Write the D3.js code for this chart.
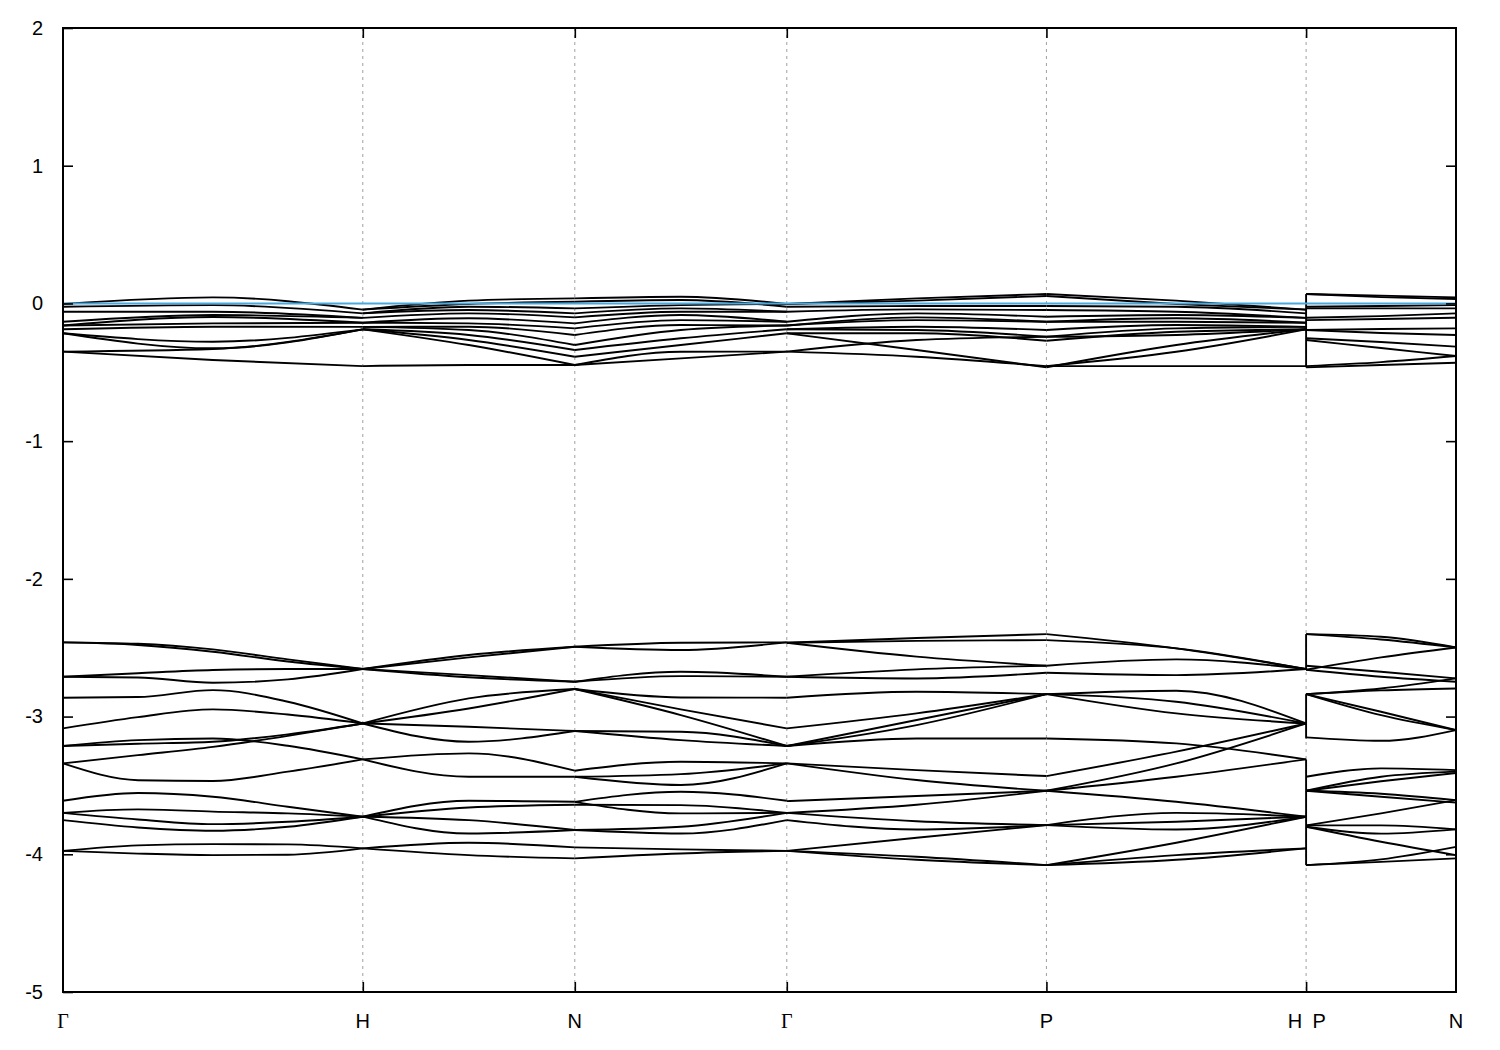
<!DOCTYPE html>
<html><head><meta charset="utf-8">
<script src="https://cdn.jsdelivr.net/npm/d3@7"></script>
<style>body{margin:0;background:#fff}svg text{font-family:"Liberation Sans",Arial,sans-serif}</style>
</head><body><svg id="c" width="1500" height="1050"></svg>
<script>
// ---- data ----
const kLabels = ["Γ","H","N","Γ","P","H","P","N"];
const kDist   = [0, 1, 1.7071, 2.4142, 3.2802, 4.1463, 4.1463, 4.6463];
const yTicks  = [2, 1, 0, -1, -2, -3, -4, -5];
const fermiLevel = 0;

// band curves per path segment; each curve = energies (eV) sampled evenly along the segment
const upperGH = [
  [-0.004, 0.044, -0.045], [-0.024, -0.012, -0.072], [-0.060, -0.060, -0.105],
  [-0.133, -0.084, -0.105], [-0.160, -0.099, -0.140], [-0.160, -0.145, -0.140],
  [-0.188, -0.169, -0.170], [-0.217, -0.278, -0.188], [-0.217, -0.326, -0.188],
  [-0.350, -0.331, -0.188], [-0.350, -0.411, -0.455]
];
const upperHN = [
  [-0.045, 0.020, 0.037], [-0.045, -0.004, 0.012], [-0.072, -0.024, -0.036],
  [-0.072, -0.048, -0.072], [-0.105, -0.072, -0.101], [-0.140, -0.108, -0.145],
  [-0.140, -0.145, -0.181], [-0.170, -0.169, -0.229], [-0.170, -0.193, -0.302],
  [-0.188, -0.229, -0.338], [-0.188, -0.266, -0.387], [-0.188, -0.302, -0.447],
  [-0.455, -0.447, -0.447]
];
const upperNG = [
  [0.037, 0.049, -0.004], [0.012, 0.025, -0.024], [-0.036, -0.012, -0.004],
  [-0.072, -0.036, -0.060], [-0.101, -0.060, -0.060], [-0.145, -0.084, -0.133],
  [-0.181, -0.121, -0.133], [-0.229, -0.157, -0.160], [-0.302, -0.193, -0.160],
  [-0.338, -0.253, -0.188], [-0.387, -0.302, -0.217], [-0.447, -0.351, -0.350],
  [-0.447, -0.399, -0.350]
];
const upperGP = [
  [-0.004, 0.037, 0.068], [-0.004, 0.020, 0.054], [-0.024, -0.019, -0.019],
  [-0.060, -0.043, -0.048], [-0.133, -0.072, -0.097], [-0.160, -0.101, -0.133],
  [-0.160, -0.121, -0.133], [-0.188, -0.169, -0.193], [-0.188, -0.193, -0.242],
  [-0.217, -0.217, -0.271], [-0.350, -0.266, -0.242], [-0.350, -0.387, -0.455],
  [-0.217, -0.338, -0.464]
];
const upperPH = [
  [0.068, 0.020, -0.045], [0.054, -0.004, -0.045], [-0.019, -0.024, -0.072],
  [-0.048, -0.060, -0.105], [-0.097, -0.084, -0.105], [-0.133, -0.108, -0.140],
  [-0.133, -0.133, -0.140], [-0.193, -0.157, -0.170], [-0.242, -0.181, -0.170],
  [-0.271, -0.206, -0.188], [-0.242, -0.229, -0.188], [-0.455, -0.351, -0.188],
  [-0.464, -0.302, -0.188], [-0.455, -0.455, -0.455]
];
const upperPN = [
  [0.068, 0.057, 0.044], [0.068, 0.046, 0.032], [-0.024, -0.019, -0.012],
  [-0.036, -0.036, -0.036], [-0.104, -0.092, -0.072], [-0.121, -0.113, -0.104],
  [-0.193, -0.186, -0.181], [-0.193, -0.215, -0.229], [-0.253, -0.280, -0.314],
  [-0.266, -0.324, -0.382], [-0.455, -0.426, -0.382], [-0.464, -0.447, -0.431]
];

const lowerGH = [
  [-2.461, -2.471, -2.512, -2.585, -2.655], [-2.461, -2.480, -2.529, -2.600, -2.655],
  [-2.711, -2.685, -2.662, -2.655, -2.655], [-2.711, -2.716, -2.754, -2.730, -2.655],
  [-2.863, -2.858, -2.808, -2.892, -3.050], [-3.086, -3.004, -2.948, -2.985, -3.050],
  [-3.214, -3.171, -3.159, -3.212, -3.311], [-3.214, -3.197, -3.183, -3.129, -3.050],
  [-3.340, -3.280, -3.220, -3.140, -3.050], [-3.340, -3.462, -3.468, -3.400, -3.311],
  [-3.611, -3.555, -3.582, -3.655, -3.727], [-3.699, -3.674, -3.690, -3.703, -3.727],
  [-3.699, -3.747, -3.781, -3.764, -3.727], [-3.752, -3.805, -3.829, -3.800, -3.727],
  [-3.975, -3.935, -3.926, -3.928, -3.957], [-3.975, -3.995, -4.006, -4.003, -3.957]
];
const lowerHN = [
  [-2.655, -2.553, -2.493], [-2.655, -2.570, -2.493], [-2.655, -2.699, -2.747],
  [-2.655, -2.715, -2.747], [-3.050, -2.868, -2.800], [-3.050, -2.941, -2.800],
  [-3.050, -3.074, -3.105], [-3.050, -3.183, -3.105], [-3.311, -3.267, -3.393],
  [-3.311, -3.437, -3.437], [-3.727, -3.611, -3.619], [-3.727, -3.660, -3.640],
  [-3.727, -3.752, -3.824], [-3.727, -3.849, -3.824], [-3.957, -3.916, -3.950],
  [-3.957, -4.006, -4.030]
];
const lowerNG = [
  [-2.493, -2.464, -2.461], [-2.493, -2.517, -2.461], [-2.747, -2.675, -2.711],
  [-2.747, -2.706, -2.711], [-2.800, -2.861, -2.863], [-2.800, -2.948, -3.086],
  [-2.800, -2.989, -3.214], [-3.105, -3.110, -3.214], [-3.105, -3.171, -3.214],
  [-3.393, -3.328, -3.340], [-3.437, -3.418, -3.340], [-3.437, -3.497, -3.340],
  [-3.619, -3.546, -3.611], [-3.640, -3.643, -3.699], [-3.619, -3.703, -3.699],
  [-3.824, -3.800, -3.699], [-3.824, -3.849, -3.752], [-3.950, -3.964, -3.975],
  [-4.030, -3.994, -3.975]
];
const lowerGP = [
  [-2.464, -2.430, -2.401], [-2.464, -2.450, -2.445], [-2.464, -2.565, -2.631],
  [-2.711, -2.657, -2.631], [-2.711, -2.723, -2.682], [-2.863, -2.820, -2.837],
  [-3.086, -2.977, -2.837], [-3.214, -3.025, -2.837], [-3.214, -3.062, -2.837],
  [-3.214, -3.159, -3.159], [-3.340, -3.389, -3.432], [-3.340, -3.461, -3.539],
  [-3.614, -3.577, -3.539], [-3.699, -3.640, -3.539], [-3.699, -3.760, -3.788],
  [-3.752, -3.820, -3.788], [-3.975, -3.880, -3.788], [-3.975, -4.018, -4.079],
  [-3.975, -4.040, -4.079]
];
const lowerPH = [
  [-2.401, -2.505, -2.655], [-2.445, -2.505, -2.655], [-2.631, -2.585, -2.655],
  [-2.682, -2.699, -2.655], [-2.837, -2.812, -3.050], [-2.837, -2.892, -3.050],
  [-2.837, -2.977, -3.050], [-3.159, -3.195, -3.311], [-3.432, -3.255, -3.050],
  [-3.539, -3.340, -3.050], [-3.539, -3.437, -3.311], [-3.539, -3.619, -3.727],
  [-3.788, -3.699, -3.727], [-3.788, -3.764, -3.727], [-3.788, -3.820, -3.727],
  [-4.079, -4.006, -3.957], [-4.079, -3.916, -3.727], [-4.079, -4.040, -3.957]
];
const lowerPN = [
  [-2.401, -2.440, -2.498], [-2.401, -2.420, -2.498], [-2.660, -2.570, -2.498],
  [-2.631, -2.675, -2.723], [-2.660, -2.711, -2.747], [-2.837, -2.796, -2.723],
  [-2.837, -2.810, -2.796], [-2.837, -2.965, -3.098], [-2.837, -2.990, -3.098],
  [-3.151, -3.176, -3.098], [-3.437, -3.376, -3.389], [-3.539, -3.437, -3.400],
  [-3.539, -3.470, -3.410], [-3.539, -3.582, -3.625], [-3.539, -3.560, -3.607],
  [-3.790, -3.703, -3.607], [-3.790, -3.790, -3.819], [-3.800, -3.850, -3.819],
  [-3.800, -3.909, -4.006], [-4.079, -4.037, -3.946], [-4.079, -4.055, -4.030]
];

// vertical jumps at the H|P discontinuity: [energy at H side, energy at P side]
const jumps = [[0.068, -0.464], [-2.401, -2.660], [-2.837, -3.159], [-3.311, -4.079]];

// segment table: [start k index, end k index, curves]
const segments = [
  [0, 1, upperGH.concat(lowerGH)],
  [1, 2, upperHN.concat(lowerHN)],
  [2, 3, upperNG.concat(lowerNG)],
  [3, 4, upperGP.concat(lowerGP)],
  [4, 5, upperPH.concat(lowerPH)],
  [6, 7, upperPN.concat(lowerPN)]
];

// ---- drawing ----
const svg = d3.select("#c");
const L = 63, R = 1456, T = 28, B = 992;
const x = d3.scaleLinear().domain([0, kDist[kDist.length - 1]]).range([L, R]);
const y = d3.scaleLinear().domain([-5, 2]).range([B, T]);

// grid lines at interior high-symmetry points
const interior = [1, 2, 3, 4, 5];
svg.append("g").selectAll("line").data(interior).join("line")
  .attr("x1", i => x(kDist[i])).attr("x2", i => x(kDist[i]))
  .attr("y1", T).attr("y2", B)
  .attr("stroke", "#a0a0a0").attr("stroke-width", 1).attr("stroke-dasharray", "3,4");

// bands
const line = d3.line().x(d => x(d[0])).y(d => y(d[1])).curve(d3.curveMonotoneX);
const bandG = svg.append("g").attr("fill", "none").attr("stroke", "#000").attr("stroke-width", 1.9);
segments.forEach(([a, b, curves]) => {
  const k0 = kDist[a], k1 = kDist[b];
  curves.forEach(vals => {
    const n = vals.length;
    const pts = vals.map((v, i) => [k0 + (k1 - k0) * i / (n - 1), v]);
    bandG.append("path").attr("d", line(pts));
  });
});
bandG.selectAll("line.jump").data(jumps).join("line").attr("class", "jump")
  .attr("x1", x(kDist[5])).attr("x2", x(kDist[5]))
  .attr("y1", d => y(d[0])).attr("y2", d => y(d[1]));

// Fermi level
svg.append("line").attr("x1", L).attr("x2", R)
  .attr("y1", y(fermiLevel)).attr("y2", y(fermiLevel))
  .attr("stroke", "#4aa8e0").attr("stroke-width", 2);

// axes
const yl = svg.append("g").attr("transform", `translate(${L},0)`)
  .call(d3.axisLeft(y).tickValues(yTicks).tickFormat(d3.format("d")).tickSize(-10).tickPadding(20));
const yr = svg.append("g").attr("transform", `translate(${R},0)`)
  .call(d3.axisRight(y).tickValues(yTicks.slice(1, -1)).tickSize(-10).tickFormat(""));
const xb = svg.append("g").attr("transform", `translate(0,${B})`)
  .call(d3.axisBottom(x).tickValues(interior.map(i => kDist[i])).tickSize(-10).tickFormat(""));
const xt = svg.append("g").attr("transform", `translate(0,${T})`)
  .call(d3.axisTop(x).tickValues(interior.map(i => kDist[i])).tickSize(-10).tickFormat(""));
[yl, yr, xb, xt].forEach(g => {
  g.select(".domain").remove();
  g.selectAll(".tick line").attr("stroke", "#000").attr("stroke-width", 1.6);
});
yl.selectAll(".tick text").attr("font-size", 20).attr("fill", "#000")
  .text(d => d < 0 ? "-" + Math.abs(d) : d);

// frame
svg.append("rect").attr("x", L).attr("y", T).attr("width", R - L).attr("height", B - T)
  .attr("fill", "none").attr("stroke", "#000").attr("stroke-width", 2);

// k-point labels
const labelOffsets = [0, 0, 0, 0, 0, -11, 13, 0];
svg.append("g").selectAll("text").data(kLabels).join("text")
  .attr("x", (d, i) => x(kDist[i]) + labelOffsets[i])
  .attr("y", 1028).attr("text-anchor", "middle").attr("font-size", 20).attr("fill", "#000")
  .style("font-family", d => d === "Γ" ? "'Liberation Serif', serif" : null)
  .text(d => d);
</script></body></html>
